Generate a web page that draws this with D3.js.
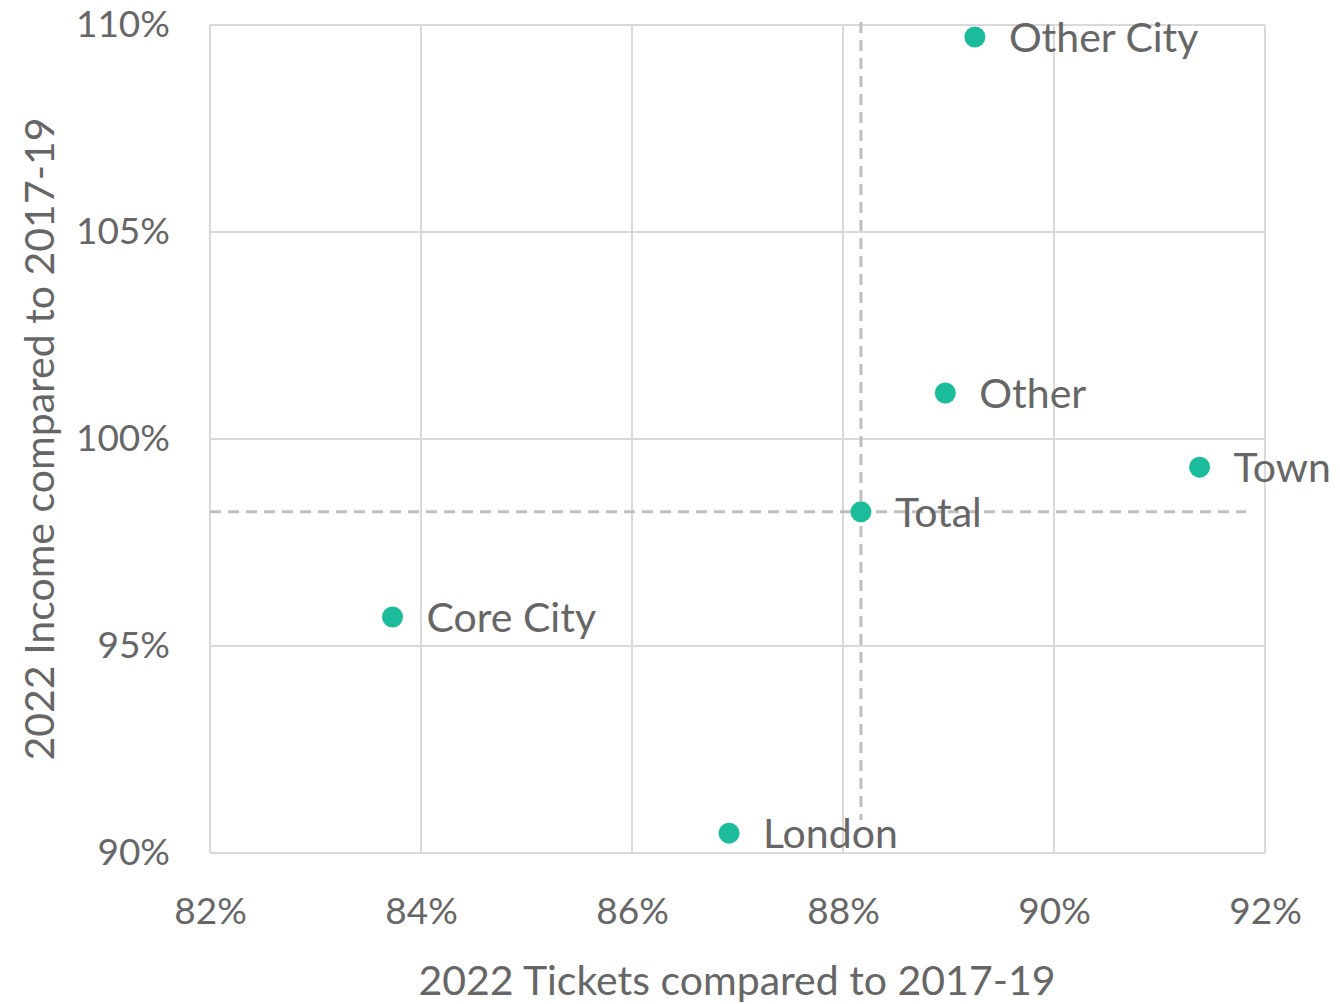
<!DOCTYPE html>
<html><head><meta charset="utf-8">
<script src="https://cdn.jsdelivr.net/npm/d3@7"></script>
<style>body{margin:0;background:#fff}svg{display:block}</style>
</head><body>
<svg id="c" width="1340" height="1004"></svg>
<script>
const categories = ["Other City","Other","Town","Total","Core City","London"];
const tickets = [89.25, 88.97, 91.38, 88.17, 83.73, 86.92];
const income  = [109.71, 101.11, 99.32, 98.24, 95.70, 90.48];
const xTicks = [82,84,86,88,90,92];
const yTicks = [90,95,100,105,110];
const refX = 88.17, refY = 98.24;
const xTitle = "2022 Tickets compared to 2017-19";
const yTitle = "2022 Income compared to 2017-19";

const svg = d3.select("#c");
const font = "Lato, 'Open Sans', sans-serif";
const txt = "#666666";
const x = d3.scaleLinear().domain([82,92]).range([210,1265]);
const y = d3.scaleLinear().domain([90,110]).range([853,25]);

const g = svg.append("g");
g.selectAll(".gx").data(xTicks).join("line")
 .attr("x1",d=>x(d)).attr("x2",d=>x(d)).attr("y1",y(90)).attr("y2",y(110))
 .attr("stroke","#d9d9d9").attr("stroke-width",2);
g.selectAll(".gy").data(yTicks).join("line")
 .attr("y1",d=>y(d)).attr("y2",d=>y(d)).attr("x1",x(82)).attr("x2",x(92))
 .attr("stroke","#d9d9d9").attr("stroke-width",2);

const xa = svg.append("g").attr("transform",`translate(0,${y(90)})`)
 .call(d3.axisBottom(x).tickValues(xTicks).tickFormat(d=>d+"%").tickSize(0).tickPadding(45));
const ya = svg.append("g").attr("transform",`translate(${x(82)},0)`)
 .call(d3.axisLeft(y).tickValues(yTicks).tickFormat(d=>d+"%").tickSize(0).tickPadding(40));
[xa,ya].forEach(a=>{a.select(".domain").remove();
 a.selectAll("text").attr("fill",txt).style("font-family",font).style("font-size","37px");});

svg.append("line").attr("x1",x(refX)).attr("x2",x(refX)).attr("y1",y(110.07)).attr("y2",y(90.8))
 .attr("stroke","#bfbfbf").attr("stroke-width",3).attr("stroke-dasharray","11,7");
svg.append("line").attr("x1",x(82)).attr("x2",x(91.82)).attr("y1",y(refY)).attr("y2",y(refY))
 .attr("stroke","#bfbfbf").attr("stroke-width",3).attr("stroke-dasharray","11,7");

const data = categories.map((c,i)=>({c,t:tickets[i],v:income[i]}));
svg.selectAll(".dot").data(data).join("circle")
 .attr("cx",d=>x(d.t)).attr("cy",d=>y(d.v)).attr("r",10.5).attr("fill","#1abc9c");
svg.selectAll(".lbl").data(data).join("text")
 .attr("x",d=>x(d.t)+34).attr("y",d=>y(d.v)).attr("dy","0.36em")
 .attr("fill",txt).style("font-family",font).style("font-size","41px").text(d=>d.c);

svg.append("text").attr("x",737).attr("y",995).attr("text-anchor","middle")
 .attr("fill",txt).style("font-family",font).style("font-size","41px").text(xTitle);
svg.append("text").attr("transform","translate(54,439) rotate(-90)").attr("text-anchor","middle")
 .attr("fill",txt).style("font-family",font).style("font-size","41px").text(yTitle);
</script>
</body></html>
